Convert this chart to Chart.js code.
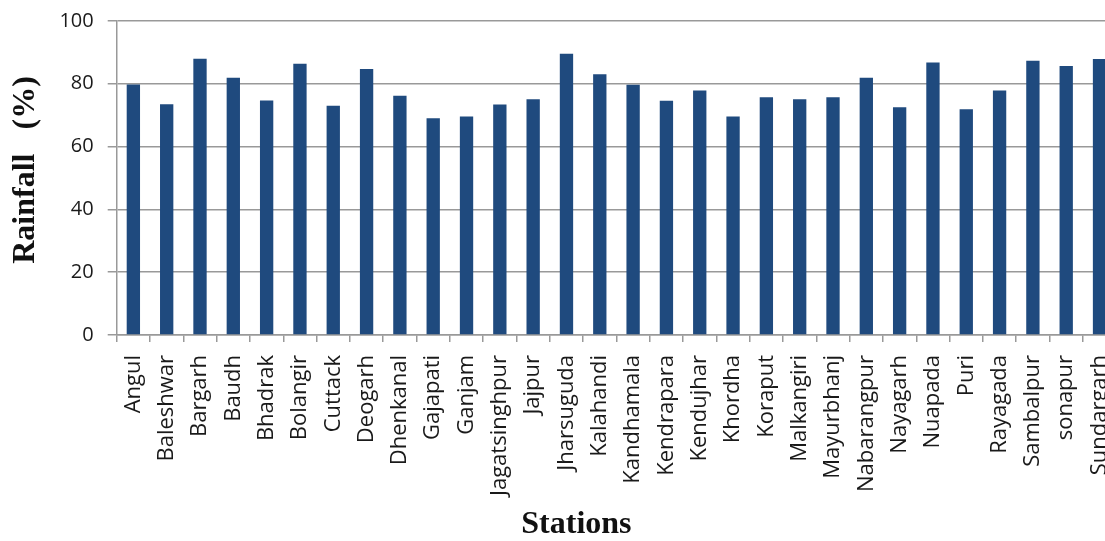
<!DOCTYPE html>
<html>
<head>
<meta charset="utf-8">
<script src="https://cdn.jsdelivr.net/npm/chart.js@4/dist/chart.umd.min.js"></script>
<style>
  html, body { margin: 0; padding: 0; background: #fff; overflow: hidden; }
  #wrap { width: 1139px; height: 541px; }
</style>
</head>
<body>
<div id="wrap"><canvas id="rainChart"></canvas></div>
<script>
// stations and rainfall (%)
var stations = ['Angul', 'Baleshwar', 'Bargarh', 'Baudh', 'Bhadrak', 'Bolangir', 'Cuttack',
  'Deogarh', 'Dhenkanal', 'Gajapati', 'Ganjam', 'Jagatsinghpur', 'Jajpur', 'Jharsuguda',
  'Kalahandi', 'Kandhamala', 'Kendrapara', 'Kendujhar', 'Khordha', 'Koraput', 'Malkangiri',
  'Mayurbhanj', 'Nabarangpur', 'Nayagarh', 'Nuapada', 'Puri', 'Rayagada', 'Sambalpur',
  'sonapur', 'Sundargarh'];
var rainfall = [79.8, 73.5, 88.0, 81.9, 74.7, 86.4, 73.0,
  84.7, 76.2, 69.0, 69.6, 73.4, 75.1, 89.6,
  83.0, 79.7, 74.6, 77.9, 69.6, 75.7, 75.1,
  75.7, 81.9, 72.5, 86.8, 71.9, 77.9, 87.3,
  85.7, 87.9];
var yTicks = [0, 20, 40, 60, 80, 100];

var ctx = document.getElementById('rainChart').getContext('2d');

// non-breaking spaces nudge the titles off-centre like the original
var nb = '\u00a0';

window.rainChart = new Chart(ctx, {
  type: 'bar',
  data: {
    labels: stations,
    datasets: [{
      label: 'Rainfall',
      data: rainfall,
      backgroundColor: '#1F4A7E',
      borderWidth: 0,
      barPercentage: 0.4,
      categoryPercentage: 1.0
    }]
  },
  options: {
    responsive: true,
    maintainAspectRatio: false,
    animation: false,
    layout: {
      padding: { top: 0, left: 2, right: 4, bottom: 0 }
    },
    plugins: {
      legend: { display: false },
      tooltip: { enabled: false }
    },
    scales: {
      x: {
        offset: true,
        grid: {
          offset: true,
          drawOnChartArea: false,
          drawTicks: true,
          tickLength: 7,
          color: '#999999',
          lineWidth: 1.5
        },
        border: { color: '#999999', width: 1.5 },
        ticks: {
          autoSkip: false,
          minRotation: 90,
          maxRotation: 90,
          padding: 13,
          color: '#1a1a1a',
          font: { family: '"Open Sans"', size: 22 }
        },
        title: {
          display: true,
          text: 'Stations' + nb.repeat(10),
          color: '#111',
          padding: { top: 0, bottom: 0 },
          font: { family: '"Liberation Serif"', size: 32, weight: 'bold', lineHeight: 1.0 }
        }
      },
      y: {
        min: 0,
        max: 100,
        afterBuildTicks: function(axis) {
          axis.ticks = yTicks.map(function(v) { return { value: v }; });
        },
        grid: {
          color: '#999999',
          lineWidth: 1.5,
          tickLength: 9
        },
        border: { color: '#999999', width: 1.5 },
        ticks: {
          padding: 14,
          color: '#1a1a1a',
          font: { family: '"Open Sans"', size: 20, lineHeight: 0.7 }
        },
        title: {
          display: true,
          text: nb.repeat(2) + 'Rainfall' + nb.repeat(3) + '(%)',
          color: '#111',
          padding: { top: 5, bottom: 0 },
          font: { family: '"Liberation Serif"', size: 32, weight: 'bold' }
        }
      }
    }
  }
});
</script>
</body>
</html>
